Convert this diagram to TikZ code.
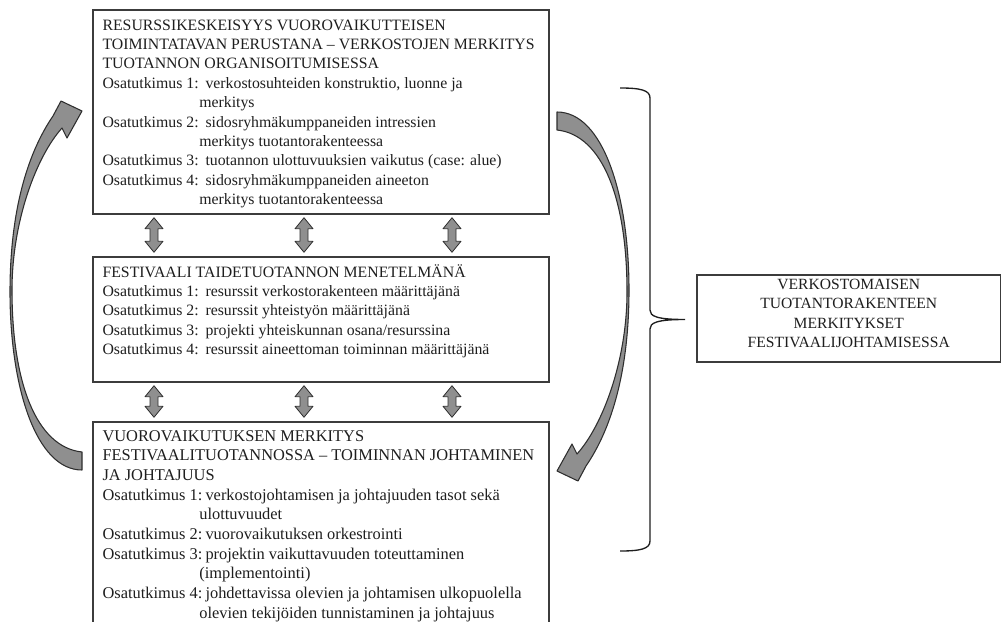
\documentclass[tikz,border=0pt]{standalone}
\usepackage{fontspec}
\setmainfont{Liberation Serif}
\usetikzlibrary{calc,fit}
\definecolor{boxline}{HTML}{3C3C3C}
\definecolor{inkgray}{HTML}{1E1E1E}
\definecolor{arrowfill}{HTML}{8F8F8F}
\definecolor{arrowline}{HTML}{2E2E2E}
\newcommand\osat[1]{\makebox[77.25pt][l]{Osatutkimus #1:}}
\newcommand\jatko{\hspace*{72.6pt}}
\newcommand\loopband{(557,112) .. controls (603,112) and (629,195) .. (629,290)
  .. controls (629,370) and (612,428) .. (586,466) -- (578,481) -- (557,471)
  -- (572,444) -- (577,454) .. controls (603,425) and (627,360) .. (627,292)
  .. controls (627,200) and (603,135) .. (557,130) -- cycle}
\begin{document}
\begin{tikzpicture}[x=0.75pt, y=-0.75pt,
  every node/.style={font=\fontsize{11.85pt}{14.55pt}\selectfont, text=inkgray},
  box/.style={draw=boxline, line width=1.1pt, inner sep=0pt},
  boxtext/.style={anchor=north west, align=left, inner sep=0pt},
  bigtext/.style={font=\fontsize{12.3pt}{14.75pt}\selectfont},
  updown/.style={draw=arrowline, fill=arrowfill, line width=0.6pt, line join=round},
  band/.style={draw=arrowline, fill=arrowfill, line width=0.8pt, line join=round},
  brace/.style={draw=inkgray, line width=1pt}]
\useasboundingbox (0,0) rectangle (1002,621);
\clip (0,0) rectangle (1002,621);

\node[box, fit={(93,10) (549,214)}] (res) {};
\node[box, fit={(93,257) (549,382)}] (fest) {};
\node[box, fit={(93,422) (549,660)}] (vuoro) {};
\node[box, fit={(697,275) (1000.5,362)}, align=center,
  font=\fontsize{11.7pt}{14.5pt}\selectfont] (summary)
  {VERKOSTOMAISEN\\TUOTANTORAKENTEEN\\MERKITYKSET\\FESTIVAALIJOHTAMISESSA};

\node[boxtext] (res-txt) at ([shift={(10,7)}]res.north west) {\strut
  RESURSSIKESKEISYYS VUOROVAIKUTTEISEN\\
  TOIMINTATAVAN PERUSTANA -- VERKOSTOJEN MERKITYS\\
  TUOTANNON ORGANISOITUMISESSA\\
  \osat{1}verkostosuhteiden konstruktio, luonne ja\\
  \jatko merkitys\\
  \osat{2}sidosryhmäkumppaneiden intressien\\
  \jatko merkitys tuotantorakenteessa\\
  \osat{3}tuotannon ulottuvuuksien vaikutus (case: alue)\\
  \osat{4}sidosryhmäkumppaneiden aineeton\\
  \jatko merkitys tuotantorakenteessa};
\node[boxtext] (fest-txt) at ([shift={(10,7)}]fest.north west) {\strut
  FESTIVAALI TAIDETUOTANNON MENETELMÄNÄ\\
  \osat{1}resurssit verkostorakenteen määrittäjänä\\
  \osat{2}resurssit yhteistyön määrittäjänä\\
  \osat{3}projekti yhteiskunnan osana/resurssina\\
  \osat{4}resurssit aineettoman toiminnan määrittäjänä};
\node[boxtext, bigtext] (vuoro-txt) at ([shift={(10,6)}]vuoro.north west) {\strut
  VUOROVAIKUTUKSEN MERKITYS\\
  FESTIVAALITUOTANNOSSA -- TOIMINNAN JOHTAMINEN\\
  JA JOHTAJUUS\\
  \osat{1}verkostojohtamisen ja johtajuuden tasot sekä\\
  \jatko ulottuvuudet\\
  \osat{2}vuorovaikutuksen orkestrointi\\
  \osat{3}projektin vaikuttavuuden toteuttaminen\\
  \jatko (implementointi)\\
  \osat{4}johdettavissa olevien ja johtamisen ulkopuolella\\
  \jatko olevien tekijöiden tunnistaminen ja johtajuus};

\foreach \a/\b in {res/fest, fest/vuoro}
  \foreach \x in {154,304,452}
    \draw[updown] ($(\a.south -| \x,0)+(0,3)$) coordinate (top) -- ++(9,11) -- ++(-5,0)
      -- ($(\b.north -| \x,0)+(4,-15)$) -- ++(5,0) -- ++(-9,11) -- ++(-9,-11) -- ++(5,0)
      -- ($(top)+(-4,11)$) -- ++(-5,0) -- cycle;

\draw[band] \loopband;
\draw[band, rotate around={180:(319.5,291)}] \loopband;

\draw[brace] (620,88) .. controls (640,88) and (650,90) .. (650,98) -- (650,310)
  .. controls (650,316) and (656,319.5) .. (685,319.5)
  .. controls (656,319.5) and (650,323) .. (650,329) -- (650,541)
  .. controls (650,549) and (640,551) .. (620,551);
\end{tikzpicture}
\end{document}
